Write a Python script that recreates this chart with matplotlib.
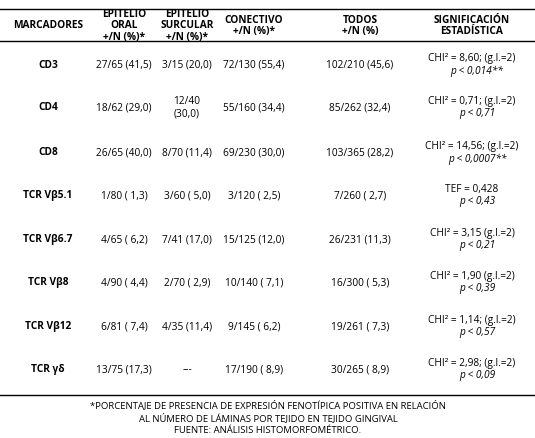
import matplotlib
matplotlib.use("Agg")
import matplotlib.pyplot as plt

plt.rcParams['font.family'] = ['Open Sans', 'DejaVu Sans']

headers = ["MARCADORES", "EPITELIO\nORAL\n+/N (%)*", "EPITELIO\nSURCULAR\n+/N (%)*",
           "CONECTIVO\n+/N (%)*", "TODOS\n+/N (%)", "SIGNIFICACIÓN\nESTADÍSTICA"]
marcadores = ["CD3", "CD4", "CD8", "TCR Vβ5.1", "TCR Vβ6.7", "TCR Vβ8", "TCR Vβ12", "TCR γδ"]
oral = ["27/65 (41,5)", "18/62 (29,0)", "26/65 (40,0)", "1/80 ( 1,3)", "4/65 ( 6,2)",
        "4/90 ( 4,4)", "6/81 ( 7,4)", "13/75 (17,3)"]
surcular = ["3/15 (20,0)", "12/40\n(30,0)", "8/70 (11,4)", "3/60 ( 5,0)", "7/41 (17,0)",
            "2/70 ( 2,9)", "4/35 (11,4)", "---"]
conectivo = ["72/130 (55,4)", "55/160 (34,4)", "69/230 (30,0)", "3/120 ( 2,5)", "15/125 (12,0)",
             "10/140 ( 7,1)", "9/145 ( 6,2)", "17/190 ( 8,9)"]
todos = ["102/210 (45,6)", "85/262 (32,4)", "103/365 (28,2)", "7/260 ( 2,7)", "26/231 (11,3)",
         "16/300 ( 5,3)", "19/261 ( 7,3)", "30/265 ( 8,9)"]
stat1 = ["CHI² = 8,60; (g.l.=2)", "CHI² = 0,71; (g.l.=2)", "CHI² = 14,56; (g.l.=2)", "TEF = 0,428",
         "CHI² = 3,15 (g.l.=2)", "CHI² = 1,90 (g.l.=2)", "CHI² = 1,14; (g.l.=2)", "CHI² = 2,98; (g.l.=2)"]
stat2 = ["p < 0,014**", "p < 0,71", "p < 0,0007**", "p < 0,43", "p < 0,21", "p < 0,39", "p < 0,57", "p < 0,09"]
footer = ["*PORCENTAJE DE PRESENCIA DE EXPRESIÓN FENOTÍPICA POSITIVA EN RELACIÓN",
          "AL NÚMERO DE LÁMINAS POR TEJIDO EN TEJIDO GINGIVAL",
          "FUENTE: ANÁLISIS HISTOMORFOMÉTRICO."]

W, H = 535, 439
fig = plt.figure(figsize=(W/100, H/100), dpi=100)
ax = fig.add_axes([0, 0, 1, 1])
ax.set_xlim(0, W); ax.set_ylim(H, 0); ax.axis('off')

fs = 7.3
colx = [48, 124, 187, 254, 360, 472]
for x, h in zip(colx, headers):
    ax.text(x, 26, h, ha='center', va='center', fontsize=fs, fontweight='bold', linespacing=1.1)
for yv in (10, 42, 396):
    ax.plot([0, W], [yv, yv], color='black', lw=1.0)

rowy = [65, 108, 153, 196, 240, 283, 327, 370]
for i, y in enumerate(rowy):
    ax.text(colx[0], y, marcadores[i], ha='center', va='center', fontsize=fs, fontweight='bold')
    ax.text(colx[1], y, oral[i], ha='center', va='center', fontsize=fs)
    ax.text(colx[2], y, surcular[i], ha='center', va='center', fontsize=fs, linespacing=1.2)
    ax.text(colx[3], y, conectivo[i], ha='center', va='center', fontsize=fs)
    ax.text(colx[4], y, todos[i], ha='center', va='center', fontsize=fs)
    ax.text(colx[5], y - 6, stat1[i], ha='center', va='center', fontsize=fs)
    ax.text(colx[5] + 5, y + 6, stat2[i], ha='center', va='center', fontsize=fs, style='italic')

for j, t in enumerate(footer):
    ax.text(268, 405 + 13*j, t, ha='center', va='center', fontsize=6.8)

fig.savefig("out.png", dpi=100)
